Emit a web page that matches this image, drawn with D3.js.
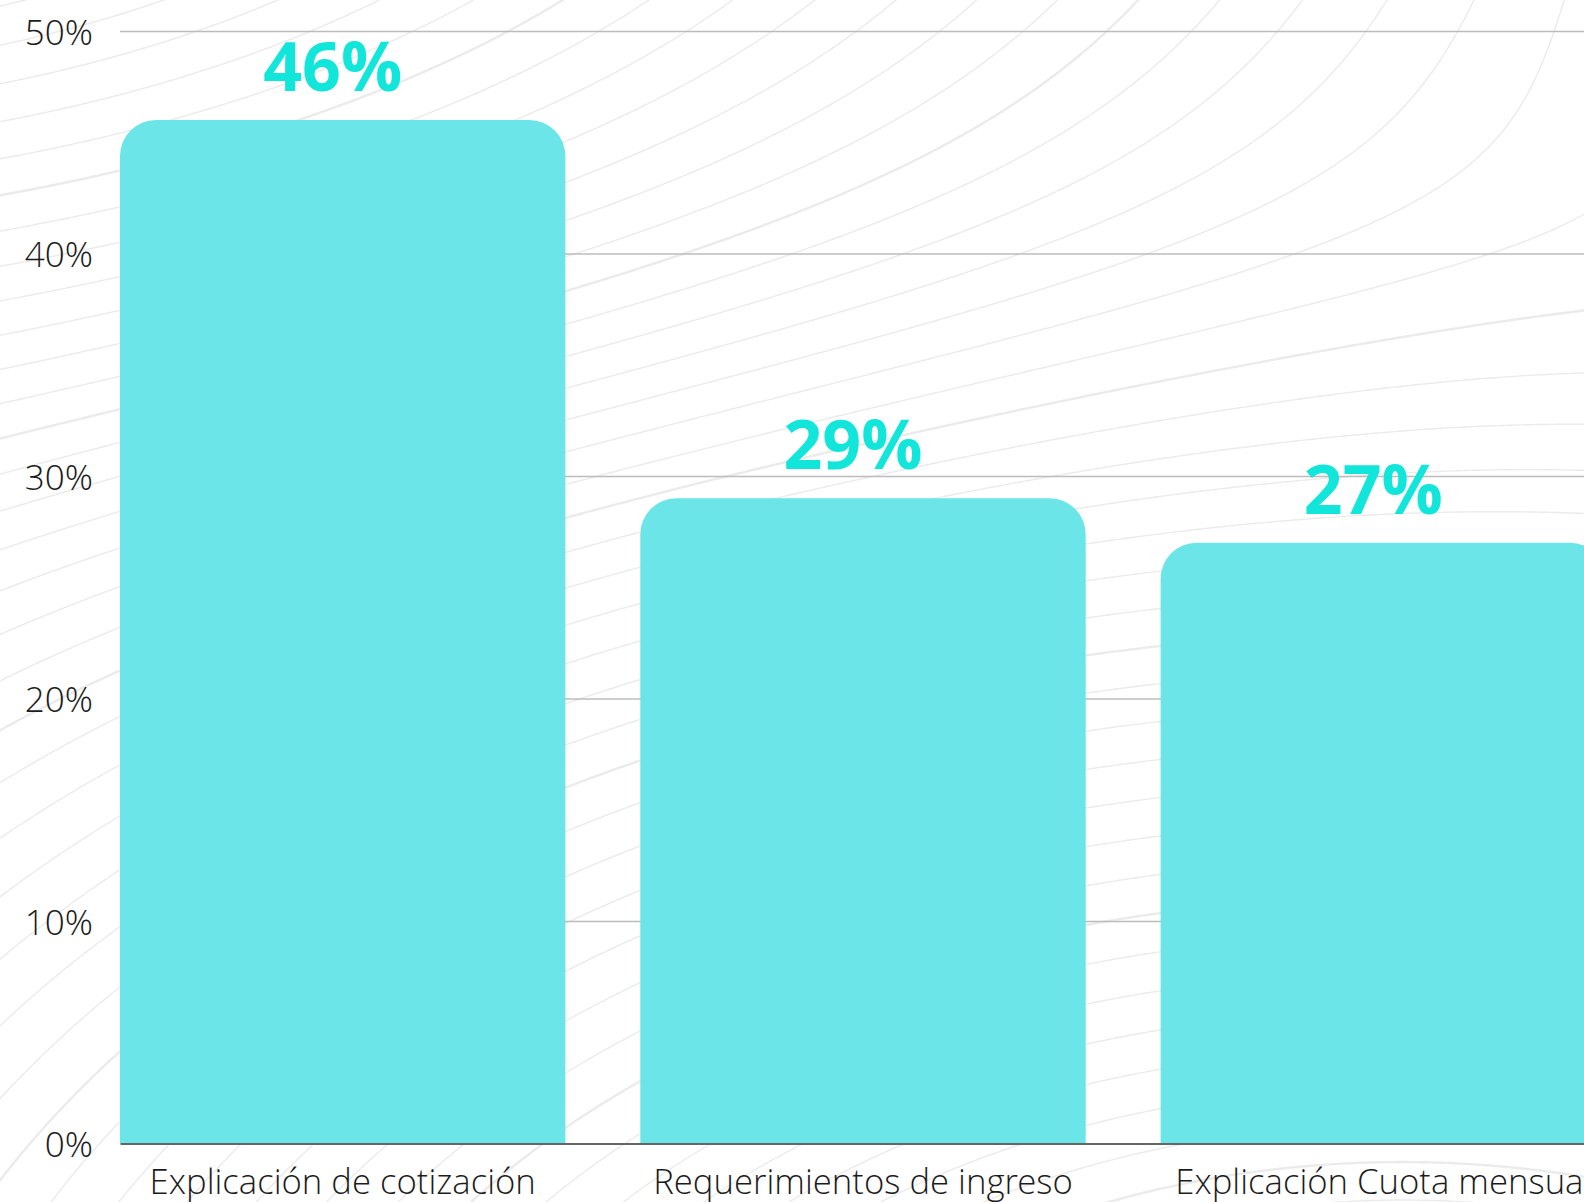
<!DOCTYPE html>
<html lang="es">
<head>
<meta charset="utf-8">
<title>Temas consultados</title>
<script src="https://cdn.jsdelivr.net/npm/d3@7"></script>
<style>
  html, body { margin: 0; padding: 0; background: #ffffff; overflow: hidden; }
  svg { display: block; }
  .tick-label { font-family: "Open Sans Light", "Open Sans", sans-serif; font-weight: 300; fill: #1c1c1c; }
  .value-label { font-family: "Open Sans", sans-serif; font-weight: 700; }
</style>
</head>
<body>
<svg id="chart" width="1584" height="1202"></svg>
<script>
// ---- data ----
const categories = ["Explicación de cotización", "Requerimientos de ingreso", "Explicación Cuota mensual"];
const shares = [0.46, 0.29, 0.27];
const yTicks = [0, 0.1, 0.2, 0.3, 0.4, 0.5];

// ---- layout ----
const W = 1584, H = 1202;
const plot = { left: 120, right: 1606, top: 31, bottom: 1143.5 };
const barColor = "#6ce5e8";
const labelColor = "#12e6db";
const pct = d3.format(".0%");

const svg = d3.select("#chart");

const x = d3.scaleBand()
  .domain(categories)
  .range([plot.left, plot.right])
  .paddingInner(0.144)
  .paddingOuter(0);

const y = d3.scaleLinear()
  .domain([0, 0.5])
  .range([plot.bottom, plot.top]);

// ---- decorative contour background ----
// Two ring systems (one centred above-left, one below-right) blended across a
// soft diagonal seam; the iso-lines of the blend give the faint flowing lines.
function field(px, py) {
  const upper = Math.hypot((px + 300) / 1.7, py + 450);
  const lower = 2450 - Math.hypot((px - 1400) / 1.6, py - 1600);
  const seam = py - (450 - 0.15 * px);
  const w = 1 / (1 + Math.exp(-seam / 120));
  return (1 - w) * upper + w * lower;
}
const cell = 4, pad = 40;
const nx = Math.ceil((W + 2 * pad) / cell) + 1;
const ny = Math.ceil((H + 2 * pad) / cell) + 1;
const grid = new Float64Array(nx * ny);
for (let j = 0; j < ny; j++) {
  for (let i = 0; i < nx; i++) {
    grid[j * nx + i] = field(i * cell - pad, j * cell - pad);
  }
}
const levels = d3.range(300, 2500, 38);
const rings = d3.contours().size([nx, ny]).thresholds(levels)(grid);
const ringPath = d3.geoPath(d3.geoTransform({
  point(px, py) { this.stream.point(px * cell - pad, py * cell - pad); }
}));
svg.append("g")
  .attr("class", "background-rings")
  .selectAll("path")
  .data(rings)
  .join("path")
  .attr("d", ringPath)
  .attr("fill", "none")
  .attr("stroke", "#ebebeb")
  .attr("stroke-width", (d, i) => (i % 7 === 3 ? 2.4 : 1.4));

// ---- horizontal grid ----
svg.append("g")
  .attr("class", "grid")
  .attr("transform", `translate(${plot.left},0)`)
  .call(d3.axisLeft(y).tickValues(yTicks.slice(1)).tickSize(-(W - plot.left)).tickFormat(""))
  .call(g => g.select(".domain").remove())
  .call(g => g.selectAll(".tick line").attr("stroke", "#bcbcbc").attr("stroke-width", 1.6));

// ---- bars with rounded top corners ----
function topRoundedBar(x0, y0, w, h, r) {
  const rr = Math.min(r, w / 2, h);
  return `M${x0},${y0 + h}V${y0 + rr}A${rr},${rr} 0 0 1 ${x0 + rr},${y0}` +
         `H${x0 + w - rr}A${rr},${rr} 0 0 1 ${x0 + w},${y0 + rr}V${y0 + h}Z`;
}
const rows = categories.map((c, i) => ({ category: c, value: shares[i] }));

svg.append("g")
  .attr("class", "bars")
  .selectAll("path")
  .data(rows)
  .join("path")
  .attr("d", d => topRoundedBar(x(d.category), y(d.value), x.bandwidth(), y(0) - y(d.value), 36))
  .attr("fill", barColor);

// ---- value labels ----
svg.append("g")
  .attr("class", "values")
  .selectAll("text")
  .data(rows)
  .join("text")
  .attr("class", "value-label")
  .attr("x", d => x(d.category) + x.bandwidth() / 2 - 10)
  .attr("y", d => y(d.value) - 29)
  .attr("text-anchor", "middle")
  .attr("font-size", 68)
  .attr("fill", labelColor)
  .text(d => pct(d.value));

// ---- y axis labels ----
svg.append("g")
  .attr("class", "y-axis")
  .attr("transform", `translate(${plot.left},0)`)
  .call(d3.axisLeft(y).tickValues(yTicks).tickSize(0).tickPadding(27).tickFormat(pct))
  .call(g => g.select(".domain").remove())
  .call(g => g.selectAll("text")
    .attr("class", "tick-label")
    .attr("font-size", 35)
    .attr("dy", "0.38em"));

// ---- x axis (base line and category labels) ----
svg.append("g")
  .attr("class", "x-axis")
  .attr("transform", `translate(0,${plot.bottom})`)
  .call(d3.axisBottom(x).tickSize(0).tickSizeOuter(0))
  .call(g => g.select(".domain").attr("stroke", "#666666").attr("stroke-width", 2))
  .call(g => g.selectAll("text")
    .attr("class", "tick-label")
    .attr("font-size", 34.7)
    .attr("y", 50.5)
    .attr("dy", 0));

// default axis font attributes would override the classes
svg.selectAll(".x-axis, .y-axis").attr("font-family", null).attr("font-size", null);
</script>
</body>
</html>
